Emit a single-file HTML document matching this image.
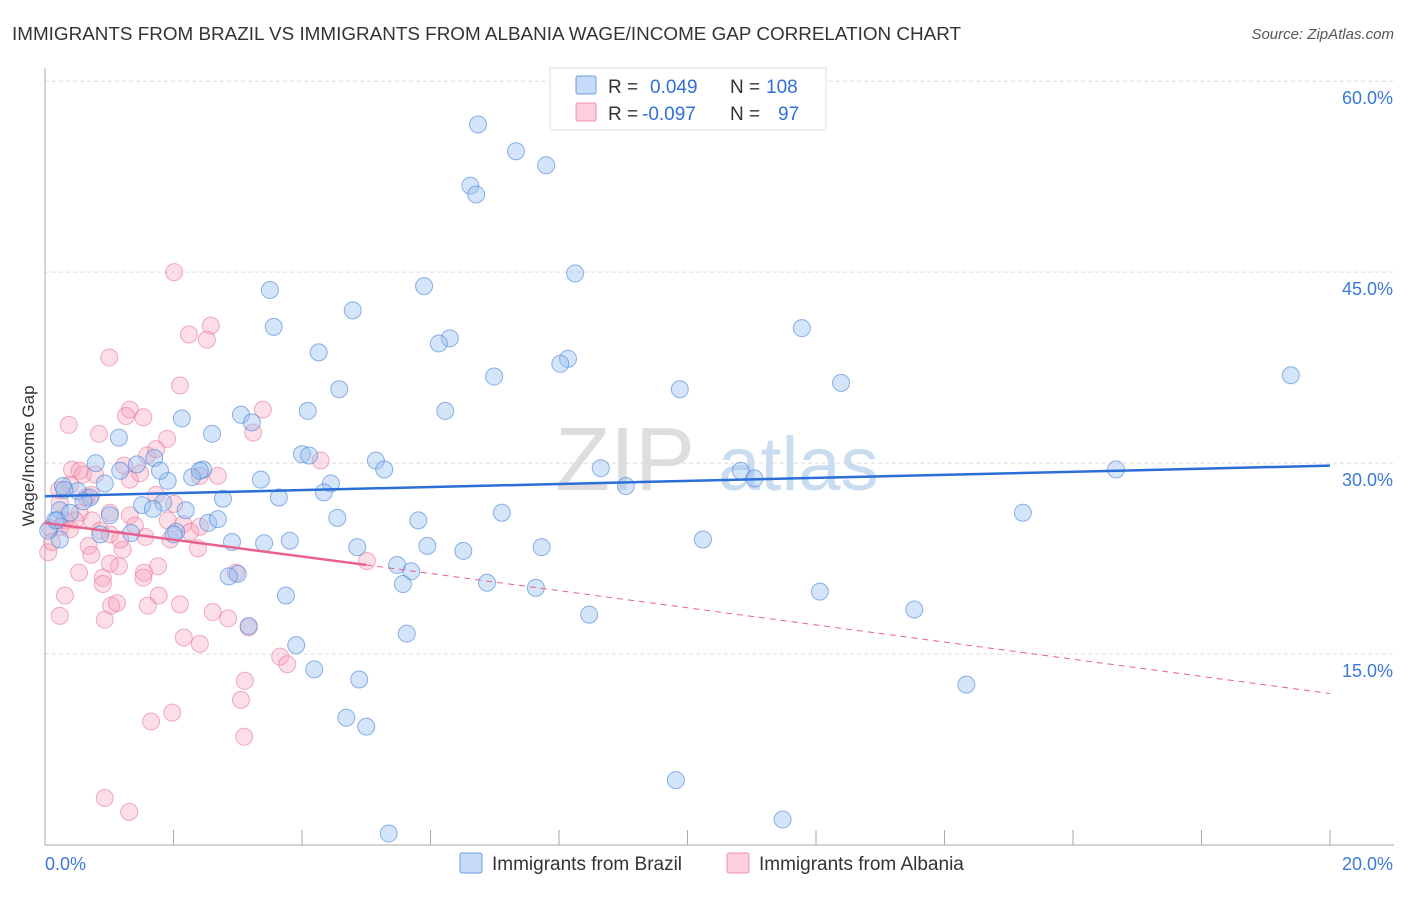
<!DOCTYPE html>
<html><head><meta charset="utf-8"><style>
body{margin:0;background:#fff;font-family:"Liberation Sans",sans-serif;}
svg text{font-family:"Liberation Sans",sans-serif;}
</style></head><body>
<svg id="chart" width="1406" height="892" xmlns="http://www.w3.org/2000/svg">
<text x="12" y="40" font-size="18" fill="#333" textLength="949" lengthAdjust="spacingAndGlyphs">IMMIGRANTS FROM BRAZIL VS IMMIGRANTS FROM ALBANIA WAGE/INCOME GAP CORRELATION CHART</text>
<text x="1394" y="39" font-size="15" fill="#555" font-style="italic" text-anchor="end">Source: ZipAtlas.com</text>
<text x="555" y="490" font-size="90" fill="#ddd" font-family="Liberation Serif">ZIP</text>
<text x="718" y="490" font-size="76" fill="#c9dcf0">atlas</text>
<g id="grid"></g>
<g id="axes"></g>
<g id="pts"></g>
<g id="trend"></g>
<text transform="translate(34,456) rotate(-90)" font-size="17" fill="#333" text-anchor="middle">Wage/Income Gap</text>
<g>
<rect x="550" y="68" width="276" height="62" fill="#fff" stroke="#ddd"/>
<rect x="576" y="76" width="20" height="18" fill="#c6dbf7" stroke="#6e9de0" rx="2"/>
<rect x="576" y="103" width="20" height="18" fill="#fbd0dc" stroke="#ec8fab" rx="2"/>
<text x="608" y="93" font-size="19" fill="#333">R = <tspan fill="#2f6fd6" x="650">0.049</tspan><tspan fill="#333" x="730">N = </tspan><tspan fill="#2f6fd6" x="766">108</tspan></text>
<text x="608" y="120" font-size="19" fill="#333">R = <tspan fill="#2f6fd6" x="642">-0.097</tspan><tspan fill="#333" x="730">N = </tspan><tspan fill="#2f6fd6" x="778">97</tspan></text>
</g>
<g><rect x="460" y="853" width="22" height="20" fill="#c6dbf7" stroke="#6e9de0" rx="2"/><text x="492" y="870" font-size="19" fill="#333">Immigrants from Brazil</text></g>
<g><rect x="727" y="853" width="22" height="20" fill="#fbd0dc" stroke="#ec8fab" rx="2"/><text x="759" y="870" font-size="19" fill="#333">Immigrants from Albania</text></g>
</svg>
<script>
const yTicks=[15,30,45,60];
const yTickLabels=["15.0%","30.0%","45.0%","60.0%"];
const xTickLabels=["0.0%","20.0%"];
const brazilX=[6.74,7.33,7.8,6.62,6.71,8.25,5.9,3.5,4.79,3.56,11.78,6.3,6.13,8.14,8.02,4.26,6.99,9.88,12.39,19.39,4.58,2.13,4.09,6.23,3.05,3.22,2.6,1.15,1.43,0.79,1.7,2.46,2.29,4.0,4.11,5.15,5.28,8.65,10.83,11.04,9.04,16.67,0.28,0.51,0.93,0.7,1.91,4.45,4.34,3.36,3.64,2.77,1.51,1.84,2.19,7.11,15.22,1.01,1.68,4.55,5.81,2.54,2.69,0.23,0.16,0.86,1.34,2.04,2.0,2.91,3.41,3.81,4.86,5.95,6.51,7.73,10.24,0.23,5.48,5.7,3.0,2.86,5.57,6.88,7.64,3.75,8.47,12.06,13.53,3.17,3.91,5.63,4.19,4.89,14.34,4.69,5.0,9.82,5.35,11.48,0.19,0.05,0.39,1.17,2.41,1.79,0.3,0.6];
const brazilY=[56.6,54.5,53.4,51.8,51.1,44.9,43.9,43.6,42.0,40.7,40.6,39.8,39.4,38.2,37.8,38.7,36.8,35.8,36.3,36.9,35.8,33.5,34.1,34.1,33.8,33.2,32.3,32.0,29.9,30.0,30.4,29.5,28.9,30.7,30.6,30.2,29.5,29.6,29.4,28.8,28.2,29.5,28.2,27.8,28.4,27.3,28.6,28.4,27.7,28.7,27.3,27.2,26.7,26.9,26.3,26.1,26.1,25.9,26.4,25.7,25.5,25.3,25.6,26.3,25.5,24.4,24.5,24.6,24.4,23.8,23.7,23.9,23.4,23.5,23.1,23.4,24.0,24.0,22.0,21.5,21.3,21.1,20.5,20.6,20.2,19.6,18.1,19.9,18.5,17.2,15.7,16.6,13.8,13.0,12.6,10.0,9.3,5.1,0.9,2.0,25.5,24.7,26.1,29.4,29.4,29.4,27.9,27.0];
const albaniaX=[2.01,2.58,2.52,2.24,1.0,2.1,0.37,1.32,1.26,1.53,3.39,0.84,1.9,3.24,1.59,1.73,4.29,1.23,0.42,0.54,0.59,0.72,0.39,1.73,2.41,2.69,0.22,0.64,1.01,0.54,0.47,1.32,1.4,2.01,1.91,2.15,2.41,0.31,0.25,0.08,0.73,0.86,1.56,1.95,2.38,1.21,0.68,0.72,1.15,1.01,1.76,1.54,1.53,0.9,0.53,0.9,2.97,2.61,2.85,3.17,0.31,0.23,0.93,1.03,1.12,1.6,2.1,1.77,5.01,2.16,2.41,3.66,3.77,3.11,3.05,1.65,1.98,3.1,0.93,1.31,0.05,0.11,0.23,0.78,1.32,1.48,1.01,2.26,1.17,0.39];
const albaniaY=[45.0,40.8,39.7,40.1,38.3,36.1,33.0,34.2,33.7,33.6,34.2,32.3,31.9,32.4,30.6,31.1,30.2,29.8,29.5,29.4,29.1,27.5,28.3,27.5,29.0,29.0,27.9,27.3,26.1,26.1,25.5,25.9,25.1,26.8,25.5,25.2,25.0,25.5,25.0,24.9,25.5,24.7,24.2,24.0,23.3,23.2,23.5,22.8,21.9,22.1,21.9,21.4,21.0,21.0,21.4,20.5,21.4,18.3,17.8,17.1,19.6,18.0,17.7,18.8,19.0,18.8,18.9,19.6,22.3,16.3,15.8,14.8,14.2,12.9,11.4,9.7,10.4,8.5,3.7,2.6,23.0,23.8,26.9,29.1,28.7,29.2,24.4,24.6,24.0,24.8];
const trendB=[[0,27.4],[20,29.8]];
const trendA=[[0,25.3],[5,22.0],[20,11.9]];

const X=v=>45+v*64.25, Y=v=>845-v*12.73;
const NS='http://www.w3.org/2000/svg';
function mk(p,t,a){const e=document.createElementNS(NS,t);for(const k in a)e.setAttribute(k,a[k]);p.appendChild(e);return e;}
const grid=document.getElementById('grid'),axes=document.getElementById('axes'),pts=document.getElementById('pts'),tr=document.getElementById('trend');
yTicks.forEach((t,i)=>{
 const l=mk(grid,'line',{x1:45,x2:1394,y1:Y(t),y2:Y(t),stroke:'#ddd','stroke-dasharray':'4,3'});
 
 
 const tx=mk(grid,'text',{x:1393,y:Y(t)+23,'font-size':18,fill:'#3b78d8','text-anchor':'end'});
 tx.textContent=yTickLabels[i];
 
 
});
mk(axes,'line',{x1:45,x2:45,y1:68,y2:845,stroke:'#aaa'});
mk(axes,'line',{x1:45,x2:1394,y1:845,y2:845,stroke:'#aaa'});
for(let i=1;i<=10;i++){const xx=X(i*2);mk(axes,'line',{x1:xx,x2:xx,y1:830,y2:845,stroke:'#aaa'});}
const t0=mk(axes,'text',{x:45,y:870,'font-size':18,fill:'#3b78d8'});t0.textContent=xTickLabels[0];


const t1=mk(axes,'text',{x:1393,y:870,'font-size':18,fill:'#3b78d8','text-anchor':'end'});t1.textContent=xTickLabels[1];


albaniaX.forEach((x,i)=>{const c=mk(pts,'circle',{cx:X(x),cy:Y(albaniaY[i]),r:8.5,fill:'rgba(246,160,186,0.35)',stroke:'rgba(232,120,155,0.6)'});
 
 });
brazilX.forEach((x,i)=>{const c=mk(pts,'circle',{cx:X(x),cy:Y(brazilY[i]),r:8.5,fill:'rgba(150,190,240,0.4)',stroke:'rgba(70,130,215,0.6)'});
 
 });
const lb=mk(tr,'line',{x1:X(trendB[0][0]),y1:Y(trendB[0][1]),x2:X(trendB[1][0]),y2:Y(trendB[1][1]),stroke:'#2b6fd6','stroke-width':2.5});


const la=mk(tr,'line',{x1:X(trendA[0][0]),y1:Y(trendA[0][1]),x2:X(trendA[1][0]),y2:Y(trendA[1][1]),stroke:'#e8608c','stroke-width':2.5});


const ld=mk(tr,'line',{x1:X(trendA[1][0]),y1:Y(trendA[1][1]),x2:X(trendA[2][0]),y2:Y(trendA[2][1]),stroke:'#e8608c','stroke-width':1,'stroke-dasharray':'6,5'});


</script>
</body></html>
